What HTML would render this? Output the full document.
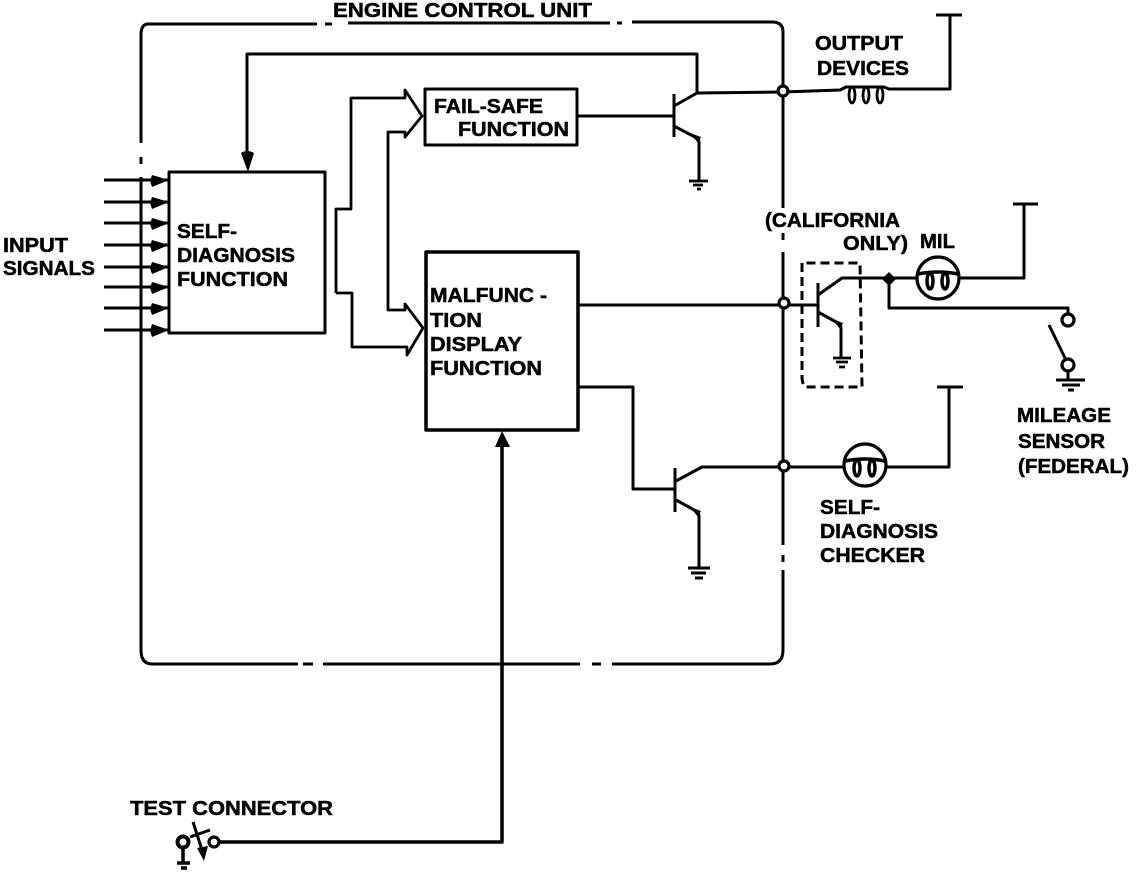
<!DOCTYPE html>
<html>
<head>
<meta charset="utf-8">
<style>
html,body{margin:0;padding:0;background:#fff;}
svg{display:block;}
text{font-family:"Liberation Sans",sans-serif;font-weight:bold;font-size:20px;fill:#000;stroke:#000;stroke-width:.5px;}
.l{fill:none;stroke:#000;stroke-width:3;stroke-linejoin:round;stroke-linecap:butt;}
.m{fill:none;stroke:#000;stroke-width:2.8;stroke-linejoin:round;}
.t{fill:none;stroke:#000;stroke-width:3.5;stroke-linejoin:round;}
.f{fill:#000;stroke:none;}
.n{fill:#fff;stroke:#000;stroke-width:3.2;}
</style>
</head>
<body>
<svg width="1136" height="874" viewBox="0 0 1136 874" xmlns="http://www.w3.org/2000/svg">
<!-- Outer dash-dot box -->
<path class="l" d="M317 24H147Q141 25 141 35V143M141 157V164M141 177V650Q141 664 152 664H298M303 664H313M323 664H580M592 664H601M612 664H770Q783 664 783 650V570M783 562V555M783 545V252M783 240V233M783 208V32Q783 22 772 22H632M622 23H617M610 23H348M332 24H325"/>

<!-- Feedback line into self-diagnosis -->
<path class="l" d="M247 155V54H697V93"/>
<path class="f" d="M241 153Q247 149 254 153L248 172Z"/>

<!-- Boxes -->
<rect class="l" x="169" y="172" width="156" height="161"/>
<rect class="l" x="425" y="89" width="152" height="56"/>
<rect class="t" x="426" y="252" width="152" height="178"/>

<!-- Input arrows -->
<path class="l" d="M104 180H169M104 202H169M104 223H169M104 245H169M104 267H169M104 287H169M104 308H169M104 330H169"/>
<path class="f" d="M152 175L169 180L152 187L150 181ZM152 197L169 202L152 209L150 203ZM152 218L169 223L152 230L150 224ZM152 240L169 245L152 252L150 246ZM152 262L169 267L152 274L150 268ZM152 282L169 287L152 294L150 288ZM152 303L169 308L152 315L150 309ZM152 324L169 330L152 337L150 331Z"/>

<!-- Bus arrows -->
<path class="m" d="M336 293V209H351V98H405V90L422 116L405 137V132H388V310H405V304L423 328L407 355V347H352V293H336"/>

<!-- Output transistor 1 -->
<path class="l" d="M578 116H673"/>
<path class="l" d="M674 94V137"/>
<path class="l" d="M674 106L697 93L783 92"/>
<path class="l" d="M674 126L695 137Q699 139 699 142V181"/>
<path class="f" d="M690 133L701 137L698 143Z"/>
<path class="m" d="M689 181H708M693 185H703M697 189H701"/>

<!-- Output devices coil -->
<path class="l" d="M783 92L840 90L846 87H884L889 89H950V15"/>
<path class="l" d="M936 15H962"/>
<ellipse class="m" cx="852" cy="95" rx="3" ry="8"/>
<ellipse class="m" cx="866" cy="95" rx="3" ry="8"/>
<ellipse class="m" cx="880" cy="95" rx="3" ry="8"/>

<!-- Middle row -->
<path class="l" d="M578 305H817"/>
<path class="l" d="M818 283V327"/>
<path class="l" d="M818 295L842 278H938M959 278H1024V204"/>
<path class="l" d="M1013 204H1038"/>
<path class="l" d="M818 312L838 323Q841 325 841 328V357"/>
<path class="f" d="M832 319L843 323L840 329Z"/>
<path class="m" d="M833 358H851M836 362H848M839 367H845"/>
<path class="l" stroke-dasharray="9 5" d="M802 263V378Q803 387 806 387H862L860 263H802"/>
<path class="f" d="M889 272L896 279L889 286L882 279Z"/>
<path class="l" d="M889 279V308H1068V314"/>
<circle cx="1068" cy="320" r="6" class="n"/>
<circle cx="1068" cy="365" r="6" class="n"/>
<path class="l" d="M1049 325L1066 360M1068 371V380"/>
<path class="l" d="M1056 380H1085M1062 385H1080M1068 390H1074"/>
<circle cx="938" cy="278" r="21" class="n"/>
<path class="t" d="M918 274Q938 270 958 274"/>
<ellipse class="t" cx="930" cy="281" rx="3" ry="8"/>
<ellipse class="t" cx="945" cy="281" rx="3" ry="8"/>

<!-- Bottom row -->
<path class="l" d="M578 387H633V489H675"/>
<path class="l" d="M675 468V512"/>
<path class="l" d="M676 481L702 467H783H949V387"/>
<path class="l" d="M937 387H963"/>
<path class="l" d="M676 500L696 511Q699 513 699 516V568"/>
<path class="f" d="M690 507L701 511L698 517Z"/>
<path class="l" d="M688 568H710M691 573H706M695 578H703"/>
<circle cx="865" cy="465" r="21" class="n"/>
<path class="t" d="M845 461Q865 457 885 461"/>
<ellipse class="t" cx="857" cy="468" rx="3" ry="8"/>
<ellipse class="t" cx="872" cy="468" rx="3" ry="8"/>

<!-- Nodes -->
<circle cx="783" cy="91" r="5" class="n"/>
<circle cx="784" cy="303" r="5" class="n"/>
<circle cx="784" cy="466" r="5" class="n"/>

<!-- Test connector -->
<path class="t" d="M502 445V842H220"/>
<path class="f" d="M502 431L510 447H495Z"/>
<circle cx="214" cy="842" r="5" class="n"/>
<circle cx="183" cy="842" r="5.5" class="n" style="stroke-width:4"/>
<path class="t" d="M183 847V862M177 863H190M181 868H187"/>
<path class="l" d="M210 830L190 837M193 822L202 850"/>
<path class="f" d="M197 848L208 846L204 861Z"/>

<!-- Labels -->
<g text-anchor="start">
<text x="333" y="17" textLength="259" lengthAdjust="spacingAndGlyphs">ENGINE CONTROL UNIT</text>
<text x="815" y="50" textLength="88" lengthAdjust="spacingAndGlyphs">OUTPUT</text>
<text x="817" y="75" textLength="92" lengthAdjust="spacingAndGlyphs">DEVICES</text>
<text x="434" y="113" textLength="109" lengthAdjust="spacingAndGlyphs">FAIL-SAFE</text>
<text x="458" y="136" textLength="111" lengthAdjust="spacingAndGlyphs">FUNCTION</text>
<text x="177" y="238" textLength="60" lengthAdjust="spacingAndGlyphs">SELF-</text>
<text x="177" y="262" textLength="118" lengthAdjust="spacingAndGlyphs">DIAGNOSIS</text>
<text x="177" y="286" textLength="111" lengthAdjust="spacingAndGlyphs">FUNCTION</text>
<text x="3" y="252" textLength="65" lengthAdjust="spacingAndGlyphs">INPUT</text>
<text x="3" y="275" textLength="92" lengthAdjust="spacingAndGlyphs">SIGNALS</text>
<text x="430" y="302" textLength="117" lengthAdjust="spacingAndGlyphs">MALFUNC -</text>
<text x="430" y="327" textLength="52" lengthAdjust="spacingAndGlyphs">TION</text>
<text x="430" y="351" textLength="92" lengthAdjust="spacingAndGlyphs">DISPLAY</text>
<text x="430" y="375" textLength="112" lengthAdjust="spacingAndGlyphs">FUNCTION</text>
<text x="765" y="227" textLength="135" lengthAdjust="spacingAndGlyphs">(CALIFORNIA</text>
<text x="843" y="250" textLength="65" lengthAdjust="spacingAndGlyphs">ONLY)</text>
<text x="920" y="248" textLength="35" lengthAdjust="spacingAndGlyphs">MIL</text>
<text x="1017" y="422" textLength="94" lengthAdjust="spacingAndGlyphs">MILEAGE</text>
<text x="1018" y="448" textLength="87" lengthAdjust="spacingAndGlyphs">SENSOR</text>
<text x="1018" y="473" textLength="111" lengthAdjust="spacingAndGlyphs">(FEDERAL)</text>
<text x="820" y="514" textLength="60" lengthAdjust="spacingAndGlyphs">SELF-</text>
<text x="820" y="538" textLength="118" lengthAdjust="spacingAndGlyphs">DIAGNOSIS</text>
<text x="820" y="562" textLength="105" lengthAdjust="spacingAndGlyphs">CHECKER</text>
<text x="130" y="815" textLength="203" lengthAdjust="spacingAndGlyphs">TEST CONNECTOR</text>
</g>
</svg>
</body>
</html>
